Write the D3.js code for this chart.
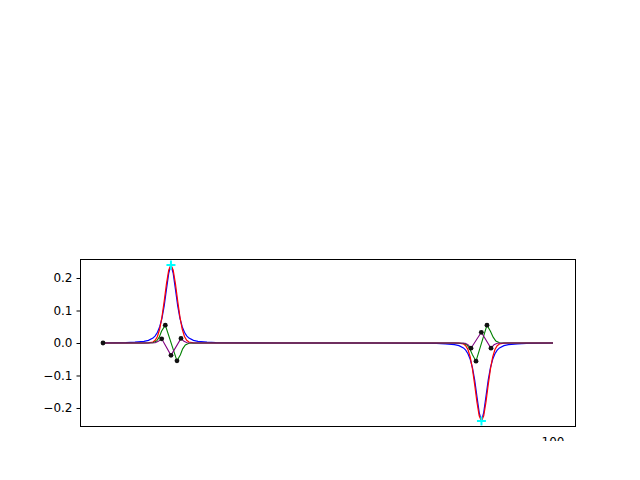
<!DOCTYPE html>
<html><head><meta charset="utf-8">
<script src="https://cdn.jsdelivr.net/npm/d3@7"></script>
<style>body{margin:0;background:#fff}svg{display:block}</style>
</head><body>
<script>
// ---- data ----
const xSmooth = [0, 5.1, 7.1, 9.1, 10.1, 11.1, 11.6, 12.1, 12.6, 13.1, 13.6, 14.1, 14.6, 15.1, 15.6, 16.1, 16.6, 17.1, 17.6, 18.1, 18.6, 19.1, 20.1, 21.1, 23.1, 25.1, 40, 60,
  74.1, 76.1, 78.1, 79.1, 80.1, 80.6, 81.1, 81.6, 82.1, 82.6, 83.1, 83.6, 84.1, 84.6, 85.1, 85.6, 86.1, 86.6, 87.1, 87.6, 88.1, 89.1, 90.1, 92.1, 94.1, 100];
const redVals = [0, 0, 0, 0, 0.0003, 0.003, 0.0083, 0.020, 0.043, 0.080, 0.129, 0.182, 0.224, 0.240, 0.224, 0.182, 0.129, 0.080, 0.043, 0.020, 0.0083, 0.003, 0.0003, 0, 0, 0, 0, 0,
  0, 0, 0, -0.0003, -0.003, -0.0083, -0.020, -0.043, -0.080, -0.129, -0.182, -0.224, -0.240, -0.224, -0.182, -0.129, -0.080, -0.043, -0.020, -0.0083, -0.003, -0.0003, 0, 0, 0, 0];
const blueVals = [0, 0.001, 0.0025, 0.005, 0.008, 0.015, 0.022, 0.033, 0.050, 0.076, 0.114, 0.165, 0.214, 0.240, 0.214, 0.165, 0.114, 0.076, 0.050, 0.033, 0.022, 0.015, 0.008, 0.005, 0.0025, 0.001, 0, 0,
  -0.001, -0.0025, -0.005, -0.008, -0.015, -0.022, -0.033, -0.050, -0.076, -0.114, -0.165, -0.214, -0.240, -0.214, -0.165, -0.114, -0.076, -0.050, -0.033, -0.022, -0.015, -0.008, -0.005, -0.0025, -0.001, 0];

const xGreen = [0, 9.1, 11.1, 11.9, 12.5, 13.0, 13.84, 16.44, 17.2, 17.7, 18.3, 19.1, 21.1, 40, 60,
  78.1, 80.1, 80.9, 81.5, 82.1, 82.89, 85.33, 86.1, 86.7, 87.3, 88.1, 90.1, 100];
const greenVals = [0, 0, 0.001, 0.006, 0.018, 0.036, 0.055, -0.055, -0.036, -0.018, -0.006, -0.001, 0, 0, 0,
  0, -0.001, -0.006, -0.018, -0.036, -0.056, 0.055, 0.036, 0.018, 0.006, 0.001, 0, 0];

const xPurple = [0, 9.1, 11.6, 12.3, 13.04, 15.11, 17.33, 18.0, 18.7, 21.1, 40, 60,
  78.1, 80.5, 81.1, 81.78, 84.07, 86.22, 86.9, 87.6, 90.1, 100];
const purpleVals = [0, 0, 0.001, 0.005, 0.013, -0.038, 0.014, 0.005, 0.001, 0, 0, 0,
  0, -0.001, -0.005, -0.016, 0.033, -0.016, -0.005, -0.001, 0, 0];

const dotX = [0, 13.04, 13.84, 15.11, 16.44, 17.33, 81.78, 82.89, 84.07, 85.33, 86.22];
const dotY = [0, 0.013, 0.055, -0.038, -0.055, 0.014, -0.016, -0.056, 0.033, 0.055, -0.016];

const peakX = [15.1, 84.1];
const peakY = [0.24, -0.24];

const yTicks = [-0.2, -0.1, 0.0, 0.1, 0.2];
const xTicks = [100];

// ---- drawing ----
const W = 640, H = 480;
const svg = d3.select("body").append("svg").attr("width", W).attr("height", H);
const L = 80, R = 576, T = 259, B = 427;
const x = d3.scaleLinear().domain([-5, 105]).range([80.5, 575.5]);
const y = d3.scaleLinear().domain([-0.2585, 0.2585]).range([B, T]);

const defs = svg.append("defs");
defs.append("clipPath").attr("id", "plotclip").append("rect")
  .attr("x", L).attr("y", T).attr("width", R - L).attr("height", B - T);
defs.append("clipPath").attr("id", "labclip").append("rect")
  .attr("x", 0).attr("y", 0).attr("width", W).attr("height", 441);

const g = svg.append("g").attr("clip-path", "url(#plotclip)");
const line = (xs, ys) => d3.line().x((d, i) => x(xs[i])).y(d => y(d))(ys);

g.append("path").attr("d", line(xSmooth, blueVals)).attr("fill", "none").attr("stroke", "#0000ff").attr("stroke-width", 1.2);
g.append("path").attr("d", line(xSmooth, redVals)).attr("fill", "none").attr("stroke", "#ff0000").attr("stroke-width", 1.2);
g.append("path").attr("d", line(xGreen, greenVals)).attr("fill", "none").attr("stroke", "#008000").attr("stroke-width", 1.1);
g.append("path").attr("d", line(xPurple, purpleVals)).attr("fill", "none").attr("stroke", "#800080").attr("stroke-width", 1.1);

g.selectAll("circle.dot").data(dotX).enter().append("circle")
  .attr("cx", d => x(d)).attr("cy", (d, i) => y(dotY[i])).attr("r", 2.4).attr("fill", "#111");

const plus = svg.append("g");
peakX.forEach((px, i) => {
  const cx = x(px), cy = y(peakY[i]);
  plus.append("line").attr("x1", cx - 4.5).attr("x2", cx + 4.5).attr("y1", cy).attr("y2", cy).attr("stroke", "cyan").attr("stroke-width", 2);
  plus.append("line").attr("x1", cx).attr("x2", cx).attr("y1", cy - 4.5).attr("y2", cy + 4.5).attr("stroke", "cyan").attr("stroke-width", 2);
});

// frame
svg.append("rect").attr("x", L + 0.5).attr("y", T + 0.5).attr("width", R - L - 1).attr("height", B - T - 1)
  .attr("fill", "none").attr("stroke", "#000").attr("stroke-width", 1);

// y axis
const yAxis = d3.axisLeft(y).tickValues(yTicks).tickSize(4).tickPadding(4)
  .tickFormat(d => d3.format(".1f")(d).replace("-", "\u2212"));
const ya = svg.append("g").attr("transform", `translate(${L + 0.5},0)`).call(yAxis);
ya.select(".domain").remove();
ya.selectAll("text").attr("font-family", "DejaVu Sans").attr("font-size", 12).attr("fill", "#000");
ya.selectAll("line").attr("stroke", "#000");

// x tick label (clipped as in the reference)
const xl = svg.append("g").attr("clip-path", "url(#labclip)");
xl.selectAll("text").data(xTicks).enter().append("text")
  .attr("x", d => x(d)).attr("y", 446).attr("text-anchor", "middle")
  .attr("font-family", "DejaVu Sans").attr("font-size", 12).attr("fill", "#000")
  .text(d => d);
</script>
</body></html>
